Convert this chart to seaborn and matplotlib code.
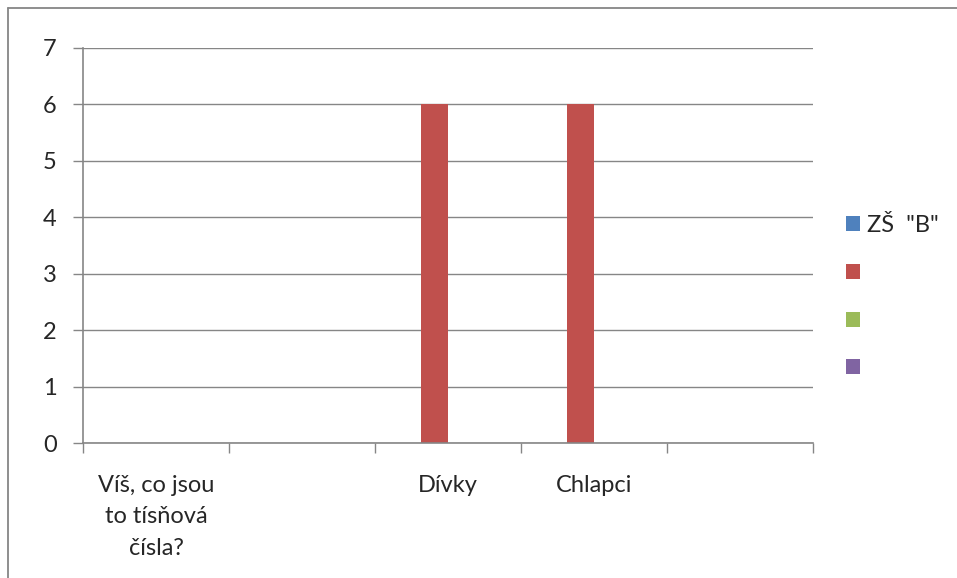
import numpy as np
import pandas as pd
import matplotlib
matplotlib.use("Agg")
import matplotlib.pyplot as plt
from matplotlib.lines import Line2D
from matplotlib.patches import Patch
import seaborn as sns

# chart data
categories = ["Víš, co jsou\nto tísňová\nčísla?", "", "Dívky", "Chlapci", ""]
series_names = ['ZŠ  "B"', "", "", ""]
zs_b = [0, 0, 0, 0, 0]
series_2 = [0, 0, 6, 6, 0]
series_3 = [0, 0, 0, 0, 0]
series_4 = [0, 0, 0, 0, 0]
colors = ["#4F81BD", "#C0504D", "#9BBB59", "#8064A2"]

sns.set_style("white")
plt.rcParams['font.family'] = ['Lato', 'DejaVu Sans']

# long table for seaborn, category / series kept by position (names repeat)
rows = []
for s, vals in enumerate([zs_b, series_2, series_3, series_4]):
    for c, v in enumerate(vals):
        rows.append({"cat": c, "series": s, "value": v})
df = pd.DataFrame(rows)

grey = "#868686"
fs = 17
fig = plt.figure(figsize=(9.57, 5.78), dpi=100)
ax = fig.add_axes([83/957, 1 - 443/578, 730/957, 395/578])

sns.barplot(data=df, x="cat", y="value", hue="series", order=range(len(categories)),
            hue_order=range(len(series_names)), palette=colors, saturation=1, width=0.73,
            gap=0, dodge=True, legend=False, linewidth=0, ax=ax)

ax.set_xlim(-0.5, len(categories) - 0.5)
ax.set_ylim(0, 7)
ax.set_yticks(range(0, 8))
ax.yaxis.grid(True, color=grey, linewidth=1.0)
ax.set_axisbelow(True)
ax.set_xlabel("")
ax.set_ylabel("")

# major ticks on category boundaries, labels on minor ticks at centers
ax.set_xticks(np.arange(-0.5, len(categories), 1.0))
ax.set_xticklabels([])
ax.set_xticks(range(len(categories)), minor=True)
ax.set_xticklabels(categories, minor=True, fontsize=fs, linespacing=1.62)
ax.tick_params(axis="x", which="major", length=7, width=1, color=grey, direction="out", bottom=True)
ax.tick_params(axis="x", which="minor", length=0, pad=23)
ax.tick_params(axis="y", length=7, width=1, color=grey, direction="out", left=True, pad=12, labelsize=fs)

for side in ["top", "right"]:
    ax.spines[side].set_visible(False)
for side in ["left", "bottom"]:
    ax.spines[side].set_color(grey)
    ax.spines[side].set_linewidth(1.2)

handles = [Patch(facecolor=c, edgecolor="none") for c in colors]
fig.legend(handles, series_names, loc="center left", bbox_to_anchor=(846/957, 1 - 297/578),
           frameon=False, fontsize=fs, handlelength=0.6, handleheight=0.6,
           handletextpad=0.3, labelspacing=1.13, borderpad=0, borderaxespad=0)

# outer chart frame (runs off the right and bottom edges)
fig.add_artist(Line2D([8/957, 8/957], [1 - 8/578, -0.05], color=grey, linewidth=1.3))
fig.add_artist(Line2D([8/957, 1.05], [1 - 8/578, 1 - 8/578], color=grey, linewidth=1.3))

fig.savefig("out.png", dpi=100)
